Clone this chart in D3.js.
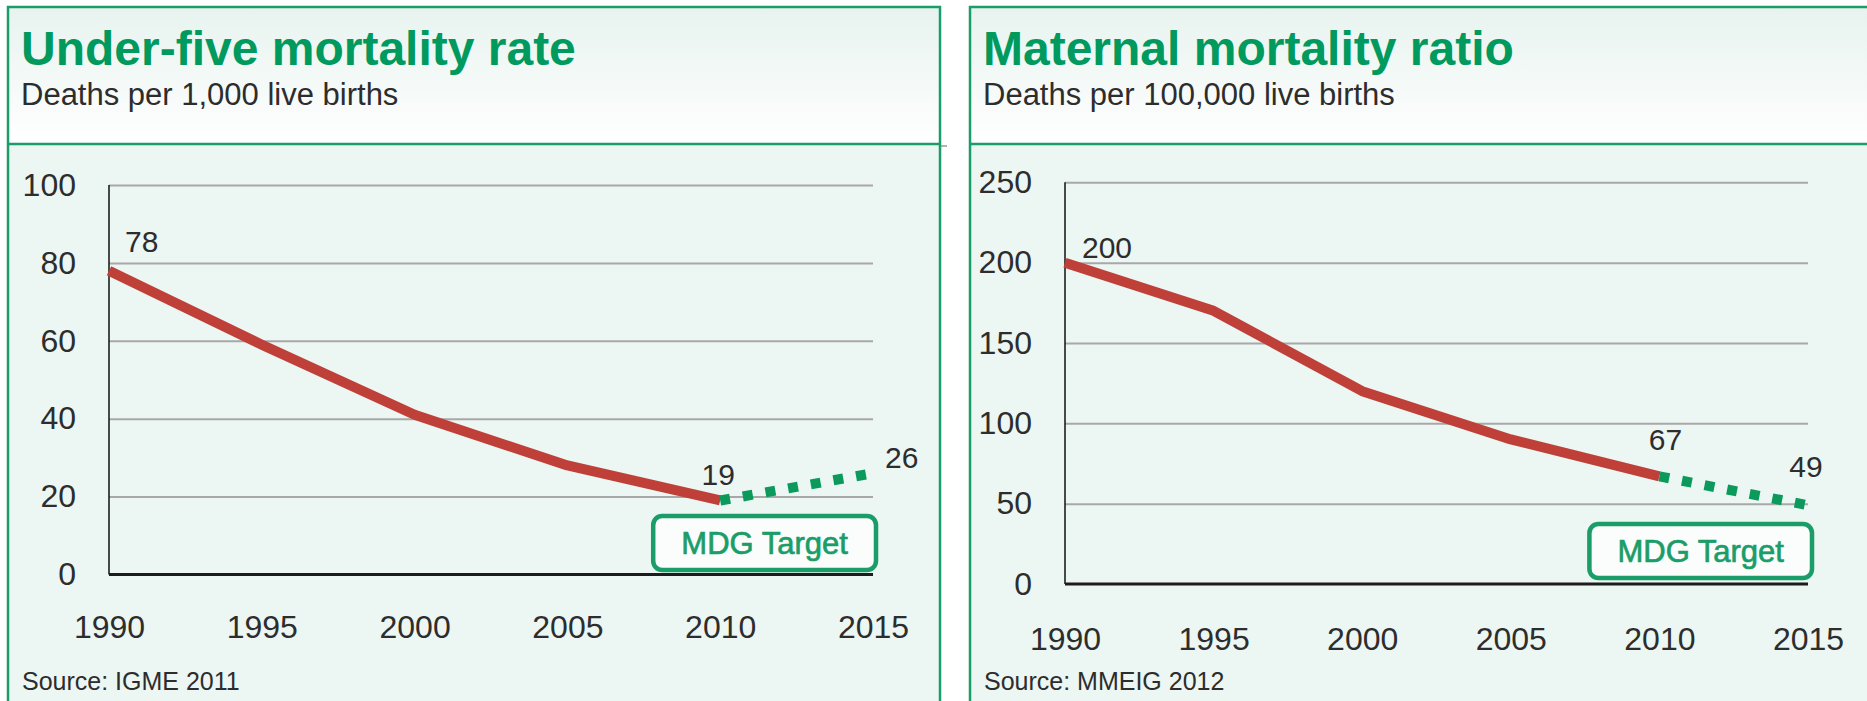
<!DOCTYPE html>
<html>
<head>
<meta charset="utf-8">
<script src="https://cdn.jsdelivr.net/npm/d3@7"></script>
<style>
  body { margin: 0; background: #fff; }
  svg text { font-family: "Liberation Sans", Arial, sans-serif; fill: #2d2d2d; }
  svg .title { font-weight: bold; fill: #00995e; }
</style>
</head>
<body>
<div id="chart"></div>
<script>
// data
const years = [1990, 1995, 2000, 2005, 2010];
const targetYears = [2010, 2015];
const xTicks = [1990, 1995, 2000, 2005, 2010, 2015];

const under5Rates = [78, 59, 41, 28, 19];
const under5Target = [19, 26];
const under5Ticks = [0, 20, 40, 60, 80, 100];

const maternalRatios = [200, 170, 120, 90, 67];
const maternalTarget = [67, 49];
const maternalTicks = [0, 50, 100, 150, 200, 250];

const titles = ["Under-five mortality rate", "Maternal mortality ratio"];
const subtitles = ["Deaths per 1,000 live births", "Deaths per 100,000 live births"];
const sources = ["Source: IGME 2011", "Source: MMEIG 2012"];
const targetLabel = "MDG Target";

const width = 1867, height = 701;
const green = "#1a9d68", red = "#bf4039";

const svg = d3.select("#chart")
  .append("svg")
    .attr("width", width)
    .attr("height", height);

// header fades from mint to white
const grad = svg.append("defs").append("linearGradient")
    .attr("id", "headFill")
    .attr("x1", 0).attr("y1", 0).attr("x2", 0).attr("y2", 1);
grad.append("stop").attr("offset", "0%").attr("stop-color", "#e7f3ef");
grad.append("stop").attr("offset", "100%").attr("stop-color", "#ffffff");

function drawPanel(p) {
  const g = svg.append("g");

  // panel backgrounds + border
  g.append("rect")
    .attr("x", p.box.x).attr("y", p.box.head)
    .attr("width", p.box.w).attr("height", height)
    .attr("fill", "#ecf6f3");
  g.append("rect")
    .attr("x", p.box.x).attr("y", p.box.y)
    .attr("width", p.box.w).attr("height", p.box.head - p.box.y)
    .attr("fill", "url(#headFill)");
  g.append("rect")
    .attr("x", p.box.x).attr("y", p.box.y)
    .attr("width", p.box.w).attr("height", height)
    .attr("fill", "none")
    .attr("stroke", green)
    .attr("stroke-width", 2.5);
  g.append("line")
    .attr("x1", p.box.x).attr("x2", p.box.x + p.box.w)
    .attr("y1", p.box.head).attr("y2", p.box.head)
    .attr("stroke", green)
    .attr("stroke-width", 2.5);

  // titles
  g.append("text").attr("class", "title")
    .attr("x", p.box.x + 13).attr("y", 65)
    .style("font-size", "48px")
    .text(p.title);
  g.append("text")
    .attr("x", p.box.x + 13).attr("y", 105)
    .style("font-size", "31px")
    .text(p.subtitle);
  g.append("text")
    .attr("x", p.box.x + 14).attr("y", 690)
    .style("font-size", "25px")
    .text(p.source);

  const x = d3.scaleLinear()
    .domain([1990, 2015])
    .range([p.plot.x0, p.plot.x1]);
  const y = d3.scaleLinear()
    .domain([0, d3.max(p.ticks)])
    .range([p.plot.y0, p.plot.y1]);

  // gridlines
  g.append("g")
    .attr("transform", `translate(${p.plot.x0},0)`)
    .call(d3.axisLeft(y).tickValues(p.ticks.slice(1)).tickSize(-(p.plot.x1 - p.plot.x0)).tickFormat(""))
    .call(a => a.select(".domain").remove())
    .call(a => a.selectAll("line").attr("stroke", "#a8a8a8").attr("stroke-width", 2));

  // y labels
  g.append("g")
    .attr("transform", `translate(${p.plot.x0},0)`)
    .call(d3.axisLeft(y).tickValues(p.ticks).tickSize(0).tickPadding(33))
    .call(a => a.select(".domain").remove())
    .call(a => a.selectAll("text").style("font-size", "32px").attr("font-family", null));

  // x labels
  g.append("g")
    .attr("transform", `translate(0,${p.plot.y0})`)
    .call(d3.axisBottom(x).tickValues(xTicks).tickFormat(d3.format("d")).tickSize(0).tickPadding(p.xPad))
    .call(a => a.select(".domain").remove())
    .call(a => a.selectAll("text").style("font-size", "32px").attr("font-family", null));

  // axis lines
  g.append("line")
    .attr("x1", p.plot.x0).attr("x2", p.plot.x0)
    .attr("y1", y(d3.max(p.ticks))).attr("y2", p.plot.y0)
    .attr("stroke", "#111").attr("stroke-width", 1.5);
  g.append("line")
    .attr("x1", p.plot.x0).attr("x2", p.plot.x1)
    .attr("y1", p.plot.y0).attr("y2", p.plot.y0)
    .attr("stroke", "#1c1c1c").attr("stroke-width", 3);

  // MDG target box
  const bx = x(2010) + p.boxDx[0], bw = x(2015) + p.boxDx[1] - bx;
  const by = p.plot.y0 - p.boxBottom - 54;
  g.append("rect")
    .attr("x", bx).attr("y", by)
    .attr("width", bw).attr("height", 54)
    .attr("rx", 9)
    .attr("fill", "#fbfdfc")
    .attr("stroke", green)
    .attr("stroke-width", 4.5);
  g.append("text")
    .attr("x", bx + bw / 2).attr("y", by + 27 + 11)
    .attr("text-anchor", "middle")
    .style("font-size", "31px")
    .style("fill", green)
    .style("stroke", green)
    .style("stroke-width", 0.7)
    .text(targetLabel);

  // the series
  const pts = years.map((yr, i) => [yr, p.values[i]]);
  g.append("path")
    .datum(pts)
    .attr("fill", "none")
    .attr("stroke", red)
    .attr("stroke-width", 10)
    .attr("stroke-linejoin", "round")
    .attr("d", d3.line()
      .x(d => x(d[0]))
      .y(d => y(d[1])));

  const tpts = targetYears.map((yr, i) => [yr, p.target[i]]);
  g.append("path")
    .datum(tpts)
    .attr("fill", "none")
    .attr("stroke", "#0b9a5c")
    .attr("stroke-width", 10)
    .attr("stroke-dasharray", "10,13")
    .attr("d", d3.line()
      .x(d => x(d[0]))
      .y(d => y(d[1])));

  // value labels
  const labelled = [pts[0], tpts[0], tpts[1]];
  g.selectAll(null)
    .data(labelled)
    .join("text")
      .attr("x", (d, i) => x(d[0]) + p.labels[i].dx)
      .attr("y", (d, i) => y(d[1]) + p.labels[i].dy)
      .attr("text-anchor", (d, i) => p.labels[i].anchor)
      .style("font-size", "30px")
      .text(d => d[1]);
}

drawPanel({
  title: titles[0], subtitle: subtitles[0], source: sources[0],
  values: under5Rates, target: under5Target, ticks: under5Ticks,
  box: {x: 8, y: 7, w: 932, head: 144},
  plot: {x0: 109, x1: 873, y0: 574.5, y1: 185},
  xPad: 41,
  boxDx: [-67, 3], boxBottom: 4.5,
  labels: [
    {dx: 16, dy: -19, anchor: "start"},
    {dx: -2, dy: -15, anchor: "middle"},
    {dx: 12, dy: -5, anchor: "start"}
  ]
});

drawPanel({
  title: titles[1], subtitle: subtitles[1], source: sources[1],
  values: maternalRatios, target: maternalTarget, ticks: maternalTicks,
  box: {x: 970, y: 7, w: 1000, head: 144},
  plot: {x0: 1065, x1: 1808, y0: 584, y1: 182.3},
  xPad: 43,
  boxDx: [-70, 4], boxBottom: 6,
  labels: [
    {dx: 17, dy: -5, anchor: "start"},
    {dx: 6, dy: -26, anchor: "middle"},
    {dx: -2, dy: -28, anchor: "middle"}
  ]
});

// little grey tick beside the left header rule
svg.append("line")
  .attr("x1", 941).attr("x2", 947)
  .attr("y1", 146).attr("y2", 146)
  .attr("stroke", "#999").attr("stroke-width", 1.5);
</script>
</body>
</html>
